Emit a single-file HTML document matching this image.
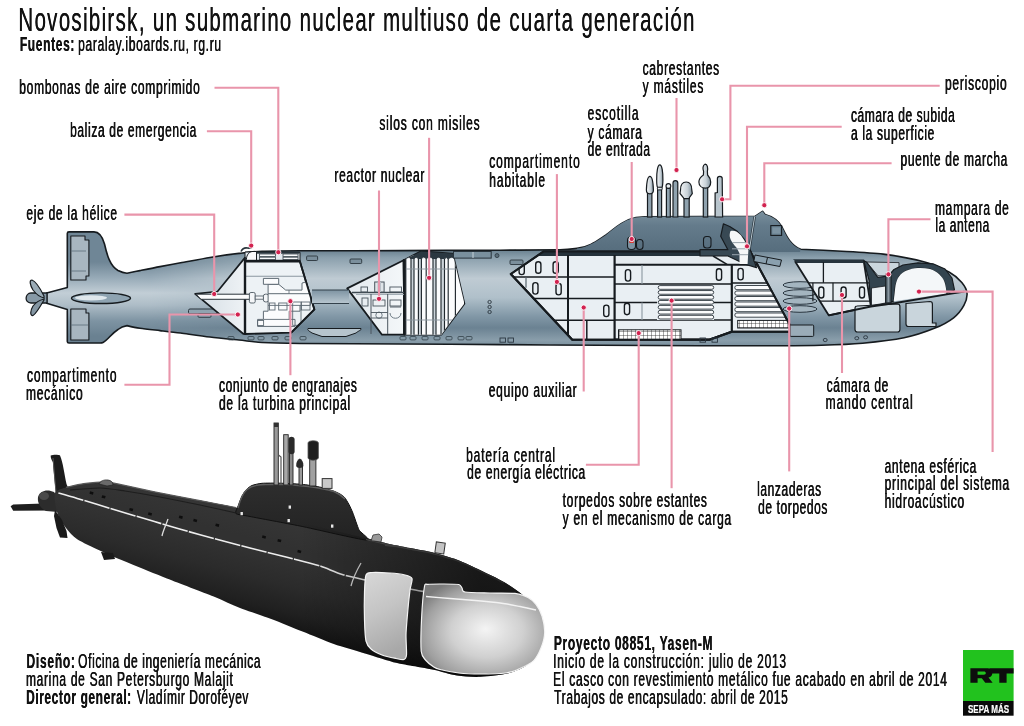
<!DOCTYPE html>
<html><head><meta charset="utf-8">
<style>
html,body{margin:0;padding:0;background:#fff;width:1024px;height:726px;overflow:hidden}
svg{display:block}
text{font-family:"Liberation Sans",sans-serif;fill:#111;stroke:#111;stroke-width:0.1px;text-shadow:0.45px 0 0 #111}
.pl{fill:none;stroke:#e995ab;stroke-width:2.1}
.dot{fill:#d2224f;stroke:#fff;stroke-width:0.9}
</style></head>
<body>
<svg width="1024" height="726" viewBox="0 0 1024 726">
<defs>
<linearGradient id="hull" gradientUnits="userSpaceOnUse" x1="0" y1="250" x2="0" y2="345">
<stop offset="0" stop-color="#6a8190"/>
<stop offset="0.08" stop-color="#8a9fac"/>
<stop offset="0.3" stop-color="#bfcbd3"/>
<stop offset="0.5" stop-color="#b0c0ca"/>
<stop offset="0.7" stop-color="#8197a6"/>
<stop offset="0.82" stop-color="#6b8292"/>
<stop offset="0.95" stop-color="#8a9eab"/>
<stop offset="1" stop-color="#7d92a0"/>
</linearGradient>
<linearGradient id="sailg" x1="0" y1="0" x2="0" y2="1">
<stop offset="0" stop-color="#7a909e"/><stop offset="0.35" stop-color="#647b8b"/><stop offset="1" stop-color="#566d7d"/>
</linearGradient>
<linearGradient id="mastg" x1="0" y1="0" x2="1" y2="0">
<stop offset="0" stop-color="#f5f7f8"/><stop offset="0.6" stop-color="#c9d2d8"/><stop offset="1" stop-color="#7d8f9b"/>
</linearGradient>
<pattern id="grid" width="4" height="4" patternUnits="userSpaceOnUse">
<rect width="4" height="4" fill="#fff"/><path d="M4,0 L4,4 M0,4 L4,4" stroke="#222" stroke-width="0.8"/>
</pattern>
<linearGradient id="bhull" gradientUnits="userSpaceOnUse" x1="316" y1="512" x2="284" y2="638">
<stop offset="0" stop-color="#363636"/><stop offset="0.4" stop-color="#323232"/><stop offset="0.6" stop-color="#2b2b2b"/><stop offset="0.8" stop-color="#202020"/><stop offset="0.93" stop-color="#151515"/><stop offset="1" stop-color="#0e0e0e"/>
</linearGradient>
<linearGradient id="bdeck" gradientUnits="userSpaceOnUse" x1="316" y1="512" x2="306" y2="552">
<stop offset="0" stop-color="#3e3e3e"/><stop offset="0.3" stop-color="#363636"/><stop offset="1" stop-color="#313131"/>
</linearGradient>
<linearGradient id="bsail" x1="0" y1="0" x2="0" y2="1">
<stop offset="0" stop-color="#2e2e2e"/><stop offset="1" stop-color="#222"/>
</linearGradient>
<linearGradient id="panel1" x1="0" y1="0" x2="0.3" y2="1">
<stop offset="0" stop-color="#d8d8d8"/><stop offset="0.5" stop-color="#c4c4c4"/><stop offset="1" stop-color="#a8a8a8"/>
</linearGradient>
<radialGradient id="panel2" cx="0.55" cy="0.55" r="0.65" fx="0.52" fy="0.5">
<stop offset="0" stop-color="#f4f4f4"/><stop offset="0.45" stop-color="#d0d0d0"/><stop offset="0.8" stop-color="#a0a0a0"/><stop offset="1" stop-color="#7a7a7a"/>
</radialGradient>
<linearGradient id="wedgeg" x1="0" y1="0" x2="1" y2="0">
<stop offset="0" stop-color="#d4dde4"/><stop offset="1" stop-color="#eef2f5"/>
</linearGradient>
<linearGradient id="wedgeg2" x1="0" y1="0" x2="1" y2="0">
<stop offset="0" stop-color="#e3e9ee"/><stop offset="1" stop-color="#f4f7f9"/>
</linearGradient>
<linearGradient id="tunnelg" x1="0" y1="0" x2="0" y2="1">
<stop offset="0" stop-color="#7d93a2"/><stop offset="1" stop-color="#b9c7d0"/>
</linearGradient>
<linearGradient id="bnose" gradientUnits="userSpaceOnUse" x1="300" y1="0" x2="480" y2="0">
<stop offset="0" stop-color="#000" stop-opacity="0"/><stop offset="1" stop-color="#000" stop-opacity="0.55"/>
</linearGradient>
<linearGradient id="tailg" gradientUnits="userSpaceOnUse" x1="0" y1="262" x2="0" y2="336">
<stop offset="0" stop-color="#6f8696"/><stop offset="0.22" stop-color="#98abb8"/><stop offset="0.42" stop-color="#c2ced6"/><stop offset="0.58" stop-color="#aebdc7"/><stop offset="0.8" stop-color="#7d93a2"/><stop offset="1" stop-color="#6a8191"/>
</linearGradient>
<linearGradient id="tailfade" gradientUnits="userSpaceOnUse" x1="150" y1="0" x2="250" y2="0">
<stop offset="0" stop-color="#fff"/><stop offset="1" stop-color="#000"/>
</linearGradient>
<mask id="tailmask" maskUnits="userSpaceOnUse" x="0" y="200" width="300" height="160"><rect x="0" y="200" width="300" height="160" fill="url(#tailfade)"/></mask>
</defs>
<g id="topsub">
<path d="M46.7,293 L67.3,287.6 L67.3,233.5 Q67.3,231.9 69,231.9 L94,231.9 C100,232 102.5,237 104.5,244 C107,255 110,266 118,270.5 C121,272 124,273 127,273.2 C128.7,272.9 135.6,271.5 140.0,270.6 C144.4,269.7 154.6,267.6 160.0,266.6 C165.4,265.6 173.9,264.0 180.6,262.8 C187.3,261.6 202.2,258.8 210.0,257.5 C217.8,256.2 232.1,254.2 239.0,253.4 C245.9,252.6 253.9,251.6 262.0,251.3 C270.1,251.0 281.6,250.9 300.0,250.8 C318.4,250.7 373.3,250.7 400.0,250.6 C426.7,250.5 478.7,250.3 500.0,250.2 C521.3,250.1 549.7,250.0 560.0,249.8 C570.3,249.6 574.7,248.6 577.0,248.4 C590,247 598,240 606,235 C614,229 622,220.5 636,217.6 L645,216.7 L755,216.3 L762.5,211.3 L765,214.6 C772,216.5 778,220 782,227 C786,235 790,245 800.7,249.3 C806.2,249.6 831.0,250.6 842.0,251.2 C853.0,251.8 872.3,252.7 883.3,254.1 C894.3,255.5 915.8,259.6 924.6,262.0 C933.4,264.4 944.4,269.6 949.4,272.3 C954.4,275.0 959.5,279.8 961.8,282.6 C964.1,285.4 966.7,290.0 967.0,293.0 C967.3,296.0 965.7,302.1 963.9,305.4 C962.1,308.7 957.5,314.8 953.6,317.8 C949.7,320.8 941.6,325.4 935.0,328.1 C928.4,330.8 913.7,335.8 904.0,337.8 C894.3,339.8 873.6,342.2 862.6,343.2 C851.6,344.2 832.3,344.9 821.3,345.2 C810.3,345.5 796.2,345.6 780.0,345.7 C763.8,345.8 724.0,345.8 700.0,345.7 C676.0,345.6 626.7,345.4 600.0,345.3 C573.3,345.2 526.7,344.8 500.0,344.6 C473.3,344.4 426.7,344.1 400.0,344.0 C373.3,343.9 318.4,343.7 300.0,343.5 C281.6,343.3 270.1,343.0 262.0,342.5 C253.9,342.0 245.9,340.7 239.0,340.0 C232.1,339.3 217.8,337.9 210.0,337.0 C202.2,336.1 187.3,333.9 180.6,333.0 C173.9,332.1 165.4,331.2 160.0,330.6 C154.6,330.0 144.4,329.0 140.0,328.3 C135.6,327.6 128.7,326.0 127.0,325.6 C124,326 121,327 118,329.5 C111,334 108,340 103,342.5 C102,343 101,343 100,343 L69,343 Q67.3,343 67.3,341.4 L67.3,309.4 L46.7,303.3 Z" fill="url(#hull)"/>
<path d="M46.7,293 L67.3,287.6 L67.3,233.5 Q67.3,231.9 69,231.9 L94,231.9 C100,232 102.5,237 104.5,244 C107,255 110,266 118,270.5 C121,272 124,273 127,273.2 C128.7,272.9 135.6,271.5 140.0,270.6 C144.4,269.7 154.6,267.6 160.0,266.6 C165.4,265.6 173.9,264.0 180.6,262.8 C187.3,261.6 202.2,258.8 210.0,257.5 C217.8,256.2 232.1,254.2 239.0,253.4 C245.9,252.6 253.9,251.6 262.0,251.3 C270.1,251.0 281.6,250.9 300.0,250.8 C318.4,250.7 373.3,250.7 400.0,250.6 C426.7,250.5 478.7,250.3 500.0,250.2 C521.3,250.1 549.7,250.0 560.0,249.8 C570.3,249.6 574.7,248.6 577.0,248.4 C590,247 598,240 606,235 C614,229 622,220.5 636,217.6 L645,216.7 L755,216.3 L762.5,211.3 L765,214.6 C772,216.5 778,220 782,227 C786,235 790,245 800.7,249.3 C806.2,249.6 831.0,250.6 842.0,251.2 C853.0,251.8 872.3,252.7 883.3,254.1 C894.3,255.5 915.8,259.6 924.6,262.0 C933.4,264.4 944.4,269.6 949.4,272.3 C954.4,275.0 959.5,279.8 961.8,282.6 C964.1,285.4 966.7,290.0 967.0,293.0 C967.3,296.0 965.7,302.1 963.9,305.4 C962.1,308.7 957.5,314.8 953.6,317.8 C949.7,320.8 941.6,325.4 935.0,328.1 C928.4,330.8 913.7,335.8 904.0,337.8 C894.3,339.8 873.6,342.2 862.6,343.2 C851.6,344.2 832.3,344.9 821.3,345.2 C810.3,345.5 796.2,345.6 780.0,345.7 C763.8,345.8 724.0,345.8 700.0,345.7 C676.0,345.6 626.7,345.4 600.0,345.3 C573.3,345.2 526.7,344.8 500.0,344.6 C473.3,344.4 426.7,344.1 400.0,344.0 C373.3,343.9 318.4,343.7 300.0,343.5 C281.6,343.3 270.1,343.0 262.0,342.5 C253.9,342.0 245.9,340.7 239.0,340.0 C232.1,339.3 217.8,337.9 210.0,337.0 C202.2,336.1 187.3,333.9 180.6,333.0 C173.9,332.1 165.4,331.2 160.0,330.6 C154.6,330.0 144.4,329.0 140.0,328.3 C135.6,327.6 128.7,326.0 127.0,325.6 C124,326 121,327 118,329.5 C111,334 108,340 103,342.5 C102,343 101,343 100,343 L69,343 Q67.3,343 67.3,341.4 L67.3,309.4 L46.7,303.3 Z" fill="url(#tailg)" mask="url(#tailmask)"/>
<path d="M46.7,293 L67.3,287.6 L67.3,233.5 Q67.3,231.9 69,231.9 L94,231.9 C100,232 102.5,237 104.5,244 C107,255 110,266 118,270.5 C121,272 124,273 127,273.2 C128.7,272.9 135.6,271.5 140.0,270.6 C144.4,269.7 154.6,267.6 160.0,266.6 C165.4,265.6 173.9,264.0 180.6,262.8 C187.3,261.6 202.2,258.8 210.0,257.5 C217.8,256.2 232.1,254.2 239.0,253.4 C245.9,252.6 253.9,251.6 262.0,251.3 C270.1,251.0 281.6,250.9 300.0,250.8 C318.4,250.7 373.3,250.7 400.0,250.6 C426.7,250.5 478.7,250.3 500.0,250.2 C521.3,250.1 549.7,250.0 560.0,249.8 C570.3,249.6 574.7,248.6 577.0,248.4 C590,247 598,240 606,235 C614,229 622,220.5 636,217.6 L645,216.7 L755,216.3 L762.5,211.3 L765,214.6 C772,216.5 778,220 782,227 C786,235 790,245 800.7,249.3 C806.2,249.6 831.0,250.6 842.0,251.2 C853.0,251.8 872.3,252.7 883.3,254.1 C894.3,255.5 915.8,259.6 924.6,262.0 C933.4,264.4 944.4,269.6 949.4,272.3 C954.4,275.0 959.5,279.8 961.8,282.6 C964.1,285.4 966.7,290.0 967.0,293.0 C967.3,296.0 965.7,302.1 963.9,305.4 C962.1,308.7 957.5,314.8 953.6,317.8 C949.7,320.8 941.6,325.4 935.0,328.1 C928.4,330.8 913.7,335.8 904.0,337.8 C894.3,339.8 873.6,342.2 862.6,343.2 C851.6,344.2 832.3,344.9 821.3,345.2 C810.3,345.5 796.2,345.6 780.0,345.7 C763.8,345.8 724.0,345.8 700.0,345.7 C676.0,345.6 626.7,345.4 600.0,345.3 C573.3,345.2 526.7,344.8 500.0,344.6 C473.3,344.4 426.7,344.1 400.0,344.0 C373.3,343.9 318.4,343.7 300.0,343.5 C281.6,343.3 270.1,343.0 262.0,342.5 C253.9,342.0 245.9,340.7 239.0,340.0 C232.1,339.3 217.8,337.9 210.0,337.0 C202.2,336.1 187.3,333.9 180.6,333.0 C173.9,332.1 165.4,331.2 160.0,330.6 C154.6,330.0 144.4,329.0 140.0,328.3 C135.6,327.6 128.7,326.0 127.0,325.6 C124,326 121,327 118,329.5 C111,334 108,340 103,342.5 C102,343 101,343 100,343 L69,343 Q67.3,343 67.3,341.4 L67.3,309.4 L46.7,303.3 Z" fill="none" stroke="#161b1f" stroke-width="1.6" stroke-linejoin="round"/>
<path d="M577,248.4 C590,247 598,240 606,235 C614,229 622,220.5 636,217.6 L645,216.7 L755,216.3 L762.5,211.3 L765,214.6 C772,216.5 778,220 782,227 C786,235 790,245 800.7,249.3 L800,252 L577,252Z" fill="url(#sailg)" stroke="none"/>
<path d="M70.8,236.0 L85.0,236.0 L85.0,240.0 L88.9,240.0 L88.9,276.0 L86.0,276.0 L86.0,280.0 L70.8,280.0Z" fill="#a8b6c0" stroke="#161b1f" stroke-width="1.1" stroke-linejoin="round" />
<line x1="70.8" y1="251" x2="86" y2="251" stroke="#5c6c78" stroke-width="0.8"/>
<line x1="70.8" y1="271" x2="86" y2="271" stroke="#5c6c78" stroke-width="0.8"/>
<path d="M70.8,309.0 L86.0,309.0 L86.0,313.0 L88.9,313.0 L88.9,340.0 L70.8,340.0Z" fill="#a8b6c0" stroke="#161b1f" stroke-width="1.1" stroke-linejoin="round" />
<line x1="70.8" y1="325" x2="88" y2="325" stroke="#5c6c78" stroke-width="0.8"/>
<path d="M47,293 L31,293 C25,293 24,303 31,303 L47,303Z" fill="#8799a6" stroke="#161b1f" stroke-width="1.3"/>
<path d="M44,296 C40,288 35,281 32,280 C29,280 30,285 33,290 C36,294 40,297 44,298Z" fill="#9aabb6" stroke="#161b1f" stroke-width="1.2"/>
<path d="M44,300 C40,307 36,314 33,315.5 C30,316 30,311 33,306 C36,302 40,300 44,299Z" fill="#8496a3" stroke="#161b1f" stroke-width="1.2"/>
<ellipse cx="101" cy="298.2" rx="29.5" ry="5.3" fill="#8ea3b1" stroke="#161b1f" stroke-width="1.4"/>
<ellipse cx="91" cy="297.8" rx="16" ry="2.6" fill="#dfe7ec"/>
<path d="M245.0,252.0 L300.0,252.3 L300.0,261.5 L245.0,261.5Z" fill="#e3e9ee" stroke="#161b1f" stroke-width="1.0" stroke-linejoin="round" />
<path d="M246.5,261.5 C246,256 248,252.5 252,251.5 L256.5,251.5 L256.5,261.5Z" fill="#fafbfc" stroke="#161b1f" stroke-width="1"/>
<rect x="259.5" y="254" width="16" height="2.4" rx="0" fill="#f7f9fa" stroke="#39444c" stroke-width="0.8"/>
<rect x="283" y="254" width="15" height="2.4" rx="0" fill="#f7f9fa" stroke="#39444c" stroke-width="0.8"/>
<rect x="259.5" y="257.2" width="16" height="2.4" rx="0" fill="#f7f9fa" stroke="#39444c" stroke-width="0.8"/>
<rect x="283" y="257.2" width="15" height="2.4" rx="0" fill="#f7f9fa" stroke="#39444c" stroke-width="0.8"/>
<rect x="256.5" y="251.7" width="43" height="2" rx="0" fill="#2a353d" stroke="none" stroke-width="0"/>
<rect x="245" y="259.8" width="55.5" height="2.2" fill="#161b1f"/>
<path d="M241,251.5 C242.5,248.5 245,247.5 247.5,248 C249.5,248.5 251,247.8 252.5,247" fill="none" stroke="#2a353d" stroke-width="1.6"/>
<rect x="188.5" y="309" width="29" height="4.8" rx="1.5" fill="#8fa3b0" stroke="#2a353d" stroke-width="1"/>
<rect x="198" y="313.5" width="13" height="3.8" rx="1" fill="#8fa3b0" stroke="#2a353d" stroke-width="0.9"/>
<path d="M195.1,293.8 L217.5,291.5 L245,257.6 L245,334 L243.5,334Z" fill="url(#wedgeg)" stroke="#161b1f" stroke-width="1.7" stroke-linejoin="round"/>
<path d="M245,261.7 L300,261.7 L314.4,309.4 L291.2,332.6 L245,334Z" fill="#edf2f5" stroke="#161b1f" stroke-width="1.8" stroke-linejoin="round"/>
<line x1="245" y1="276.2" x2="304.2" y2="276.2" stroke="#8a969f" stroke-width="1.1"/>
<line x1="245" y1="260" x2="245" y2="334.5" stroke="#161b1f" stroke-width="2.4"/>
<path d="M196,294.2 L250,294.2 L250,299.3 L201,299.3Z" fill="#fbfcfd" stroke="#2b343b" stroke-width="1"/>
<rect x="249.4" y="292.5" width="5.8" height="10.5" rx="1.5" fill="#f4f6f8" stroke="#4b5760" stroke-width="0.9"/>
<rect x="255.2" y="296" width="8.2" height="3.2" rx="0" fill="#f4f6f8" stroke="#4b5760" stroke-width="0.8"/>
<rect x="263.4" y="294.2" width="5.3" height="7.7" rx="2" fill="#f4f6f8" stroke="#4b5760" stroke-width="0.9"/>
<clipPath id="cA"><path d="M245,261.7 L300,261.7 L314.4,309.4 L291.2,332.6 L245,334Z"/></clipPath><g clip-path="url(#cA)">
<path d="M268.1,284.3 L278.7,284.3 L285.7,290.1 L302.0,290.1 L302.0,283.1 L305.6,282.0 L309.0,285.0 L311.0,293.7 L310.3,305.4 L300.0,305.4 L300.0,311.2 L289.2,311.2 L289.2,319.4 L295.0,319.4 L295.0,326.4 L257.6,326.4 L257.6,319.4 L263.4,319.4 L263.4,311.2 L268.1,311.2Z" fill="#fbfcfd" stroke="#5e6a73" stroke-width="1.0" stroke-linejoin="round"/>
<path d="M263.4,278.4 L278.7,278.4 L278.7,284.3 L263.4,284.3Z" fill="#fbfcfd" stroke="#5e6a73" stroke-width="1.0" stroke-linejoin="round"/>
<line x1="268.1" y1="293.7" x2="310.3" y2="293.7" stroke="#5e6a73" stroke-width="1"/>
<line x1="268.1" y1="305.4" x2="300" y2="305.4" stroke="#5e6a73" stroke-width="0.9"/>
<rect x="269.5" y="303" width="5.5" height="7" rx="0" fill="none" stroke="#5e6a73" stroke-width="0.9"/>
<rect x="278.7" y="303" width="8.300000000000011" height="7" rx="0" fill="none" stroke="#5e6a73" stroke-width="0.9"/>
<rect x="292.7" y="302" width="8.300000000000011" height="23.30000000000001" rx="0" fill="none" stroke="#5e6a73" stroke-width="0.9"/>
<rect x="301.5" y="302" width="8.5" height="8" rx="0" fill="none" stroke="#5e6a73" stroke-width="0.9"/>
<rect x="257.6" y="320.5" width="6" height="5" rx="0" fill="none" stroke="#5e6a73" stroke-width="0.9"/>
<line x1="263.4" y1="319.4" x2="289.2" y2="319.4" stroke="#5e6a73" stroke-width="0.9"/>
<line x1="289" y1="290.1" x2="289" y2="293.7" stroke="#5e6a73" stroke-width="0.8"/>
</g>
<path d="M300,261.7 L314.4,309.4 L291.2,332.6" fill="none" stroke="#161b1f" stroke-width="1.8" stroke-linejoin="round"/>
<path d="M347.2,288.4 L403.6,260.2 L404.4,334.7 L382,334.7Z" fill="url(#wedgeg2)" stroke="#161b1f" stroke-width="1.8" stroke-linejoin="round"/>
<path d="M403.6,260.2 L421,251.4 L452.8,253.6 L464.4,303.6 L441.2,334.7 L404.4,334.7Z" fill="#f8fafb" stroke="#161b1f" stroke-width="1.8" stroke-linejoin="round"/>
<clipPath id="cB"><path d="M403.6,260.2 L421,251.4 L452.8,253.6 L464.4,303.6 L441.2,334.7 L404.4,334.7Z"/></clipPath>
<g clip-path="url(#cB)">
<rect x="404" y="255" width="60" height="80" fill="#fbfcfd"/>
<rect x="411" y="259" width="3.0" height="76" fill="#ccd4da"/>
<rect x="418.4" y="259" width="3.0" height="76" fill="#ccd4da"/>
<rect x="433" y="259" width="3.0" height="76" fill="#ccd4da"/>
<rect x="441" y="259" width="3.5" height="76" fill="#ccd4da"/>
<line x1="405.8" y1="259" x2="405.8" y2="335" stroke="#1f272d" stroke-width="1.15"/>
<line x1="411" y1="259" x2="411" y2="335" stroke="#1f272d" stroke-width="1.15"/>
<line x1="414" y1="259" x2="414" y2="335" stroke="#1f272d" stroke-width="1.15"/>
<line x1="418.4" y1="259" x2="418.4" y2="335" stroke="#1f272d" stroke-width="1.15"/>
<line x1="421.4" y1="259" x2="421.4" y2="335" stroke="#1f272d" stroke-width="1.15"/>
<line x1="426.2" y1="259" x2="426.2" y2="335" stroke="#1f272d" stroke-width="1.15"/>
<line x1="433" y1="259" x2="433" y2="335" stroke="#1f272d" stroke-width="1.15"/>
<line x1="436" y1="259" x2="436" y2="335" stroke="#1f272d" stroke-width="1.15"/>
<line x1="441" y1="259" x2="441" y2="335" stroke="#1f272d" stroke-width="1.15"/>
<line x1="444.5" y1="259" x2="444.5" y2="335" stroke="#1f272d" stroke-width="1.15"/>
<line x1="448.2" y1="259" x2="448.2" y2="335" stroke="#1f272d" stroke-width="1.15"/>
<line x1="455.4" y1="259" x2="455.4" y2="335" stroke="#1f272d" stroke-width="1.15"/>
<line x1="404" y1="269" x2="458" y2="269" stroke="#8a969f" stroke-width="0.9"/>
<line x1="404" y1="320" x2="458" y2="320" stroke="#8a969f" stroke-width="0.9"/>
<path d="M402,251 L455,251 L455,259 L402,259Z" fill="#2b3841"/>
<path d="M405.8,259 Q408.4,255.5 411,259 M414,259 Q416.2,255.5 418.4,259 M421.4,259 Q423.8,255 426.2,259 M426.2,259 Q429.6,255 433,259 M436,259 Q438.5,255.5 441,259 M444.5,259 Q446.3,256 448.2,259 M448.2,259 Q451.8,255.5 455.4,259" fill="#e9eef1" stroke="#1f272d" stroke-width="0.8"/>
</g>
<line x1="404.4" y1="259" x2="404.4" y2="335" stroke="#161b1f" stroke-width="2.6"/>
<line x1="352" y1="292.5" x2="404" y2="292.5" stroke="#3d4850" stroke-width="1.6"/>
<line x1="356" y1="294.5" x2="404" y2="294.5" stroke="#9aa6ae" stroke-width="0.9"/>
<rect x="374.7" y="282" width="9.4" height="10" rx="0" fill="#dfe5e9" stroke="#4a555e" stroke-width="1"/>
<rect x="377.5" y="282" width="3.5" height="10" rx="0" fill="#b9c3ca" stroke="none" stroke-width="0"/>
<rect x="361" y="287" width="6.5" height="5" rx="0" fill="none" stroke="#4a555e" stroke-width="0.9"/>
<rect x="389.9" y="287" width="11.6" height="5" rx="0" fill="none" stroke="#4a555e" stroke-width="0.9"/>
<line x1="371" y1="294" x2="371" y2="334" stroke="#4a555e" stroke-width="1"/>
<line x1="387.7" y1="294" x2="387.7" y2="334" stroke="#4a555e" stroke-width="1"/>
<rect x="362" y="298" width="6" height="8" rx="0" fill="none" stroke="#4a555e" stroke-width="0.9"/>
<rect x="373" y="300" width="12" height="6" rx="0" fill="none" stroke="#4a555e" stroke-width="0.9"/>
<circle cx="379" cy="315.2" r="3.2" fill="none" stroke="#6f7c86" stroke-width="1"/>
<line x1="371" y1="312.5" x2="387.7" y2="312.5" stroke="#4a555e" stroke-width="0.9"/>
<line x1="371" y1="318" x2="387.7" y2="318" stroke="#4a555e" stroke-width="0.9"/>
<rect x="390" y="300" width="11" height="6" rx="0" fill="none" stroke="#4a555e" stroke-width="0.9"/>
<path d="M390,313 C390,320 401,320 401,313" fill="none" stroke="#6f7c86" stroke-width="1"/>
<line x1="390" y1="307" x2="401" y2="307" stroke="#4a555e" stroke-width="0.9"/>
<rect x="350" y="259" width="11.7" height="4.5" rx="1" fill="#7b8f9c" stroke="#2a353d" stroke-width="0.9"/>
<rect x="306.6" y="256" width="11" height="4.5" rx="1" fill="#7b8f9c" stroke="#2a353d" stroke-width="0.9"/>
<rect x="510" y="260" width="13" height="4.5" rx="1" fill="#7b8f9c" stroke="#2a353d" stroke-width="0.9"/>
<rect x="453.5" y="251.5" width="37.7" height="6.6" rx="0" fill="#7a909e" stroke="#2a353d" stroke-width="1"/>
<line x1="473" y1="252" x2="473" y2="258" stroke="#c5d1d8" stroke-width="1"/>
<circle cx="497" cy="255.6" r="2" fill="#5b6e7a" stroke="#2a353d" stroke-width="0.8"/>
<ellipse cx="489.6" cy="302" rx="1.7" ry="1.6" fill="none" stroke="#2a353d" stroke-width="0.9"/>
<ellipse cx="489.6" cy="307" rx="1.7" ry="1.6" fill="none" stroke="#2a353d" stroke-width="0.9"/>
<ellipse cx="489.6" cy="312" rx="1.7" ry="1.6" fill="none" stroke="#2a353d" stroke-width="0.9"/>
<path d="M312,290 L349,290 L349,303.5 L312,303.5Z" fill="url(#tunnelg)"/>
<line x1="312" y1="290" x2="349" y2="290" stroke="#33414b" stroke-width="1"/>
<line x1="312" y1="303.5" x2="349" y2="303.5" stroke="#33414b" stroke-width="1"/>
<path d="M308,328.5 L361,328.5 C362,330 358,331 356,333 L346,336.5 L322,336.5 L312,333 C309,331 307,330 308,328.5Z" fill="#b6c4cd" stroke="#161b1f" stroke-width="1"/>
<rect x="228" y="336.5" width="6" height="3.4" rx="1" fill="none" stroke="#34414a" stroke-width="0.8"/>
<rect x="248" y="336.5" width="6" height="3.4" rx="1" fill="none" stroke="#34414a" stroke-width="0.8"/>
<rect x="258" y="336.5" width="6" height="3.4" rx="1" fill="none" stroke="#34414a" stroke-width="0.8"/>
<rect x="272" y="336.5" width="6" height="3.4" rx="1" fill="none" stroke="#34414a" stroke-width="0.8"/>
<rect x="285" y="336.5" width="6" height="3.4" rx="1" fill="none" stroke="#34414a" stroke-width="0.8"/>
<rect x="300" y="336.5" width="6" height="3.4" rx="1" fill="none" stroke="#34414a" stroke-width="0.8"/>
<rect x="400" y="336.5" width="6" height="3.4" rx="1" fill="none" stroke="#34414a" stroke-width="0.8"/>
<rect x="410" y="336.5" width="6" height="3.4" rx="1" fill="none" stroke="#34414a" stroke-width="0.8"/>
<rect x="422" y="336.5" width="6" height="3.4" rx="1" fill="none" stroke="#34414a" stroke-width="0.8"/>
<rect x="434" y="336.5" width="6" height="3.4" rx="1" fill="none" stroke="#34414a" stroke-width="0.8"/>
<rect x="446" y="336.5" width="6" height="3.4" rx="1" fill="none" stroke="#34414a" stroke-width="0.8"/>
<rect x="458" y="336.5" width="6" height="3.4" rx="1" fill="none" stroke="#34414a" stroke-width="0.8"/>
<rect x="466" y="336.5" width="6" height="3.4" rx="1" fill="none" stroke="#34414a" stroke-width="0.8"/>
<ellipse cx="800" cy="285" rx="17" ry="3.3" fill="#a4b5c0" stroke="#2a3640" stroke-width="1"/>
<ellipse cx="800" cy="293" rx="17" ry="3.3" fill="#a4b5c0" stroke="#2a3640" stroke-width="1"/>
<ellipse cx="800" cy="301" rx="17" ry="3.3" fill="#a4b5c0" stroke="#2a3640" stroke-width="1"/>
<ellipse cx="800" cy="309" rx="17" ry="3.3" fill="#a4b5c0" stroke="#2a3640" stroke-width="1"/>
<clipPath id="cC"><path d="M510.8,274.0 L543.4,251.6 L750.4,251.6 L793.4,331.8 L731.8,331.8 L709.4,339.8 L572.3,339.8Z"/></clipPath>
<path d="M510.8,274.0 L543.4,251.6 L750.4,251.6 L793.4,331.8 L731.8,331.8 L709.4,339.8 L572.3,339.8Z" fill="#e9eff3" stroke="#161b1f" stroke-width="2" stroke-linejoin="round" />
<g clip-path="url(#cC)">
<rect x="500" y="249" width="300" height="7" fill="#24313a"/>
<path d="M615.6,256 L713,256 L727,264.4 L615.6,264.4Z" fill="#e4eaee"/>
<line x1="500" y1="276.9" x2="615" y2="276.9" stroke="#161b1f" stroke-width="1.5"/>
<line x1="500" y1="298.6" x2="615" y2="298.6" stroke="#161b1f" stroke-width="1.5"/>
<line x1="500" y1="320.3" x2="615" y2="320.3" stroke="#161b1f" stroke-width="1.5"/>
<line x1="526" y1="276.9" x2="526" y2="287.7" stroke="#55626b" stroke-width="1.2"/>
<line x1="586.8" y1="320.3" x2="586.8" y2="340" stroke="#161b1f" stroke-width="1.5"/>
<line x1="614.6" y1="255" x2="614.6" y2="340" stroke="#161b1f" stroke-width="2.2"/>
<line x1="568" y1="255" x2="568" y2="340" stroke="#161b1f" stroke-width="2.0"/>
<line x1="731.8" y1="264.4" x2="731.8" y2="332" stroke="#161b1f" stroke-width="2.2"/>
<line x1="614.6" y1="264.8" x2="760" y2="264.8" stroke="#161b1f" stroke-width="2"/>
<line x1="713" y1="256" x2="727" y2="264.4" stroke="#161b1f" stroke-width="1.5"/>
<line x1="614.6" y1="284" x2="731.8" y2="284" stroke="#161b1f" stroke-width="1.5"/>
<line x1="614.6" y1="302.5" x2="731.8" y2="302.5" stroke="#161b1f" stroke-width="1.5"/>
<line x1="614.6" y1="320" x2="731.8" y2="320" stroke="#161b1f" stroke-width="1.5"/>
<line x1="731.8" y1="283" x2="790" y2="283" stroke="#161b1f" stroke-width="1.5"/>
<line x1="642" y1="265" x2="642" y2="284" stroke="#8a969f" stroke-width="1.1"/>
<line x1="642" y1="302.5" x2="642" y2="320" stroke="#8a969f" stroke-width="1.1"/>
<path d="M614.6,339.6 L709.4,339.6 L731.8,331.8" fill="none" stroke="#161b1f" stroke-width="2"/>
<rect x="657" y="285" width="57" height="35" fill="#e9eff3"/>
<rect x="658.2" y="285.60" width="55.5" height="3.7" rx="1.85" fill="#fbfcfd" stroke="#2b343b" stroke-width="0.9"/>
<rect x="658.2" y="290.55" width="55.5" height="3.7" rx="1.85" fill="#fbfcfd" stroke="#2b343b" stroke-width="0.9"/>
<rect x="658.2" y="295.50" width="55.5" height="3.7" rx="1.85" fill="#fbfcfd" stroke="#2b343b" stroke-width="0.9"/>
<rect x="658.2" y="300.45" width="55.5" height="3.7" rx="1.85" fill="#fbfcfd" stroke="#2b343b" stroke-width="0.9"/>
<rect x="658.2" y="305.40" width="55.5" height="3.7" rx="1.85" fill="#fbfcfd" stroke="#2b343b" stroke-width="0.9"/>
<rect x="658.2" y="310.35" width="55.5" height="3.7" rx="1.85" fill="#fbfcfd" stroke="#2b343b" stroke-width="0.9"/>
<rect x="658.2" y="315.30" width="55.5" height="3.7" rx="1.85" fill="#fbfcfd" stroke="#2b343b" stroke-width="0.9"/>
<rect x="734.8" y="285.5" width="60" height="4.2" rx="2.1" fill="#fbfcfd" stroke="#2b343b" stroke-width="0.9"/>
<rect x="734.8" y="291.0" width="60" height="4.2" rx="2.1" fill="#fbfcfd" stroke="#2b343b" stroke-width="0.9"/>
<rect x="734.8" y="296.5" width="60" height="4.2" rx="2.1" fill="#fbfcfd" stroke="#2b343b" stroke-width="0.9"/>
<rect x="734.8" y="302.0" width="60" height="4.2" rx="2.1" fill="#fbfcfd" stroke="#2b343b" stroke-width="0.9"/>
<rect x="734.8" y="307.5" width="60" height="4.2" rx="2.1" fill="#fbfcfd" stroke="#2b343b" stroke-width="0.9"/>
<rect x="734.8" y="313.0" width="60" height="4.2" rx="2.1" fill="#fbfcfd" stroke="#2b343b" stroke-width="0.9"/>
<rect x="618.5" y="329.8" width="62.5" height="9.6" fill="url(#grid)" stroke="#161b1f" stroke-width="1"/>
<rect x="737.7" y="320.4" width="52" height="7.6" fill="url(#grid)" stroke="#161b1f" stroke-width="1"/>
<rect x="519.1" y="263.1" width="5.2" height="11.5" rx="2.6" fill="none" stroke="#161b1f" stroke-width="1.4"/>
<rect x="535.7" y="261.8" width="5.2" height="11.5" rx="2.6" fill="none" stroke="#161b1f" stroke-width="1.4"/>
<rect x="553.1" y="261.8" width="5.2" height="11.5" rx="2.6" fill="none" stroke="#161b1f" stroke-width="1.4"/>
<rect x="532.8" y="282.6" width="5.2" height="11.5" rx="2.6" fill="none" stroke="#161b1f" stroke-width="1.4"/>
<rect x="556.0" y="283.4" width="5.2" height="11.5" rx="2.6" fill="none" stroke="#161b1f" stroke-width="1.4"/>
<rect x="603.7" y="305.1" width="5.2" height="11.5" rx="2.6" fill="none" stroke="#161b1f" stroke-width="1.4"/>
<rect x="625.4" y="269.6" width="5.2" height="11.5" rx="2.6" fill="none" stroke="#161b1f" stroke-width="1.4"/>
<rect x="624.4" y="303.2" width="5.2" height="11.5" rx="2.6" fill="none" stroke="#161b1f" stroke-width="1.4"/>
<rect x="716.4" y="268.8" width="5.2" height="11.5" rx="2.6" fill="none" stroke="#161b1f" stroke-width="1.4"/>
<rect x="738.0" y="268.4" width="5.2" height="11.5" rx="2.6" fill="none" stroke="#161b1f" stroke-width="1.4"/>
</g>
<path d="M510.8,274.0 L543.4,251.6 L750.4,251.6 L793.4,331.8 L731.8,331.8 L709.4,339.8 L572.3,339.8Z" fill="none" stroke="#161b1f" stroke-width="2" stroke-linejoin="round" />
<path d="M795.3,261.7 L863.8,261.7 L870.9,306.5 L828.7,315.3Z" fill="#e9eff3" stroke="#161b1f" stroke-width="1.8" stroke-linejoin="round" />
<path d="M793,259.3 L864,259.5 L866,263 L797,263Z" fill="#27343d"/>
<line x1="823.4" y1="262" x2="823.4" y2="282.8" stroke="#161b1f" stroke-width="1.3"/>
<line x1="809" y1="282.8" x2="869" y2="282.8" stroke="#161b1f" stroke-width="1.3"/>
<line x1="812.9" y1="282.8" x2="812.9" y2="301.2" stroke="#161b1f" stroke-width="1.2"/>
<line x1="833" y1="282.8" x2="833" y2="301.2" stroke="#161b1f" stroke-width="1.2"/>
<line x1="820" y1="301.2" x2="870" y2="301.2" stroke="#161b1f" stroke-width="1.2"/>
<rect x="818.8" y="287.0" width="5" height="11" rx="2.5" fill="none" stroke="#161b1f" stroke-width="1.4"/>
<rect x="841.1" y="287.0" width="5" height="11" rx="2.5" fill="none" stroke="#161b1f" stroke-width="1.4"/>
<rect x="859.5" y="287.0" width="5" height="11" rx="2.5" fill="none" stroke="#161b1f" stroke-width="1.4"/>
<path d="M723.4,223.8 L729.7,226.5 L736.8,231 L744,239 L748.5,247 L750.3,249.7 L756.5,267.6 L745.8,264.5 L727.9,256 L700,256 L700,249.5 L727.9,249.7 L720.7,236.3Z" fill="#384954" stroke="#161b1f" stroke-width="1.2" stroke-linejoin="round"/>
<path d="M730.6,231 C733,230.6 735,231 736.8,231.8 C739,233.5 741,235 742.2,237.2 C744,239.5 745,241.5 745.8,243.5 C747,245 748,246.5 748.5,248 L747.6,264 L739.5,264 L739.5,253.3 C738.5,251.5 737.5,249.5 736.8,248 C735,246 733.5,244.5 732.4,242.6 C731,240.5 730,238.5 729.7,236.3 C729.6,234 730,232 730.6,231Z" fill="#f6f8f9"/>
<line x1="732" y1="242.6" x2="748" y2="242.6" stroke="#9aa6ae" stroke-width="1"/>
<line x1="732" y1="248.8" x2="748" y2="248.8" stroke="#9aa6ae" stroke-width="1"/>
<line x1="732" y1="254.7" x2="748" y2="254.7" stroke="#9aa6ae" stroke-width="1"/>
<path d="M754.7,216.6 L749.4,249.7" fill="none" stroke="#2a353d" stroke-width="2.4"/>
<path d="M754.7,216.6 L749.4,249.7" fill="none" stroke="#b7c5ce" stroke-width="1"/>
<path d="M755,255 L781.5,260 L779.8,266.5 L753.8,261.5Z" fill="#8aa0ae" stroke="#161b1f" stroke-width="1"/>
<line x1="767.5" y1="257.5" x2="766" y2="264" stroke="#161b1f" stroke-width="1"/>
<rect x="770.8" y="225.6" width="10.8" height="9.8" rx="0" fill="#6a8292" stroke="#161b1f" stroke-width="1.1"/>
<rect x="772.5" y="227.5" width="7.5" height="6" rx="0" fill="#7c93a2" stroke="none" stroke-width="0"/>
<rect x="627.5" y="237" width="8" height="12.5" rx="3.5" fill="#7d93a2" stroke="#161b1f" stroke-width="1.1"/>
<rect x="629.3" y="238.2" width="4.5" height="4.8" fill="#d7372c"/>
<rect x="636.5" y="239.5" width="6.5" height="10" rx="3" fill="none" stroke="#161b1f" stroke-width="1.1"/>
<rect x="703.5" y="236.5" width="7.5" height="11.5" rx="3" fill="none" stroke="#161b1f" stroke-width="1.1"/>
<rect x="647.5" y="192" width="4.399999999999977" height="25" fill="#8fa2ae" stroke="#161b1f" stroke-width="1.2"/>
<path d="M649.9,176.3 C652,176.3 653.2,183 653.4,190 C653.4,192.5 652.5,193.8 649.9,193.8 C647.3,193.8 646.4,192.5 646.4,190 C646.6,183 647.8,176.3 649.9,176.3Z" fill="url(#mastg)" stroke="#161b1f" stroke-width="1.2"/>
<rect x="657.6" y="189" width="4.0" height="28" fill="#8fa2ae" stroke="#161b1f" stroke-width="1.2"/>
<path d="M659.8,164.8 C662,164.8 663,172 662.9,180 C662.8,184 662.5,186.5 662,187.5 L657.6,187.5 C657,186.5 656.7,184 656.7,180 C656.6,172 657.6,164.8 659.8,164.8Z" fill="url(#mastg)" stroke="#161b1f" stroke-width="1.2"/>
<rect x="657.4" y="187.2" width="4.8" height="2.7" rx="1" fill="#e4e9ec" stroke="#161b1f" stroke-width="1"/>
<rect x="666.4" y="188" width="3.8999999999999773" height="29" fill="#8fa2ae" stroke="#161b1f" stroke-width="1.2"/>
<circle cx="668.4" cy="186" r="2.4" fill="#e8edf0" stroke="#161b1f" stroke-width="1.1"/>
<path d="M673,217 L673,183 C673,179.8 677.8,179.8 677.8,183 L677.8,217Z" fill="#8fa2ae" stroke="#161b1f" stroke-width="1.2"/>
<rect x="684" y="197" width="5.2000000000000455" height="20" fill="#8fa2ae" stroke="#161b1f" stroke-width="1.2"/>
<path d="M686.2,182 C690,182 691.8,185 691.8,190 L692.3,193.5 L689.5,197.5 L689.2,198.7 L684,198.7 L683.3,197.5 L680,193.5 L680.5,190 C680.5,185 682.4,182 686.2,182Z" fill="url(#mastg)" stroke="#161b1f" stroke-width="1.2"/>
<rect x="703.3" y="187" width="4.400000000000091" height="30" fill="#8fa2ae" stroke="#161b1f" stroke-width="1.2"/>
<path d="M703.6,171.4 C702.5,169 702.8,165 705,164.2 C707.5,164 708,168 707.4,171.4 L707.6,175 C709.5,177 710.7,179.5 710.7,182 C710.7,185.5 709,188.1 705.5,188.1 C701.5,188.1 698.9,185.5 698.9,182 C698.9,179.5 700.5,177 703.4,175Z" fill="url(#mastg)" stroke="#161b1f" stroke-width="1.2"/>
<path d="M715.1,217 L715.1,193 L717.4,192.5 L717.4,178.5 C717.4,176.5 718.5,176.3 719.8,176.3 C721.2,176.3 722.2,176.5 722.2,178.5 L722.6,217Z" fill="#b8c5cd" stroke="#161b1f" stroke-width="1.2"/>
<path d="M866.5,262 L899,262.6 L899,275.8 L878,275.8Z" fill="#cbd7de" stroke="#161b1f" stroke-width="0.8"/>
<path d="M863.8,260.8 L866.5,262.0 L877.9,277.5 L888.4,275.8 L894.0,269.5 L903.0,265.0 L918.0,262.8 L933.0,263.8 L945.0,269.0 L952.0,278.0 L954.5,290.0 L946.5,293.5 L944.5,282.0 L939.0,274.0 L930.0,269.0 L918.0,268.0 L906.0,270.8 L899.0,276.5 L895.5,285.4 L893.7,301.2 L870.9,306.5 L869.0,280.0Z" fill="#33444f" stroke="#161b1f" stroke-width="1.2" stroke-linejoin="round" />
<path d="M893.7,301.2 L895.5,285.4 C896.5,281 897.5,278.5 899,276.5 C901,273.5 903.5,272 906,270.8 C910,269 914,268.2 918,268 C922,267.8 926,268.2 930,269 C934,270.3 936.5,272 939,274 C941.5,276.5 943.5,279 944.5,282 C945.5,285 946.3,289 946.5,293.5Z" fill="#f4f7f9"/>
<path d="M871.5,288.0 L885.5,286.0 L885.5,303.0 L871.5,305.5Z" fill="#e9eff3" stroke="#161b1f" stroke-width="0.8" stroke-linejoin="round" />
<rect x="885.8" y="274" width="5.3" height="29" rx="0" fill="#56656f" stroke="#161b1f" stroke-width="1"/>
<rect x="887.6" y="276" width="1.6" height="26" rx="0" fill="#8a98a2" stroke="none" stroke-width="0"/>
<path d="M857,306 L897.5,304 Q899.9,304 899.9,306.5 L899.9,329.5 Q899.9,332 897.5,332 L857.5,332 Q855,332 855,329.5 L855,308.5 Q855,306 857,306Z" fill="#c9d5dc" stroke="#161b1f" stroke-width="1.2"/>
<path d="M906,303.5 L930,301.5 Q932.4,301.5 932.4,304 L932.4,323 L936,323 L936,326.5 L908.5,326.5 Q906,326.5 906,324Z" fill="#c9d5dc" stroke="#161b1f" stroke-width="1.2"/>
<path d="M828.7,315.3 L870.9,306.5 L895.5,303 L948.2,294.2 L964.5,291.6" fill="none" stroke="#161b1f" stroke-width="1.8"/>
<rect x="790" y="325" width="23.7" height="11.4" rx="1" fill="#9aacb8" stroke="#161b1f" stroke-width="1"/>
<ellipse cx="825.2" cy="340" rx="2" ry="1.6" fill="none" stroke="#2a3640" stroke-width="0.9"/>
<ellipse cx="856.8" cy="338.2" rx="2" ry="1.6" fill="none" stroke="#2a3640" stroke-width="0.9"/>
<ellipse cx="865.6" cy="337.3" rx="2" ry="1.6" fill="none" stroke="#2a3640" stroke-width="0.9"/>
<rect x="500" y="338" width="5.5" height="4.2" rx="0" fill="none" stroke="#2a3640" stroke-width="0.9"/>
<rect x="508" y="338" width="5.5" height="4.2" rx="0" fill="none" stroke="#2a3640" stroke-width="0.9"/>
<rect x="700" y="338" width="5.5" height="4.2" rx="0" fill="none" stroke="#2a3640" stroke-width="0.9"/>
<rect x="712" y="338" width="5.5" height="4.2" rx="0" fill="none" stroke="#2a3640" stroke-width="0.9"/>
</g>
<g id="lines">
<path class="pl" d="M214.5,87.8 L278.3,87.8 L278.3,252.2"/>
<path class="pl" d="M206.9,131.2 L251.2,131.2 L251.2,245.6"/>
<path class="pl" d="M124.4,214.6 L214.2,214.6 L214.2,294.0"/>
<path class="pl" d="M124.4,384.7 L169.5,384.7 L169.5,314.5 L237.8,314.5"/>
<path class="pl" d="M290.4,375.2 L290.4,301.2"/>
<path class="pl" d="M429.1,137.8 L429.1,277.8"/>
<path class="pl" d="M379.0,190.5 L379.0,298.8"/>
<path class="pl" d="M556.9,174.1 L556.9,281.9"/>
<path class="pl" d="M676.5,98.0 L676.5,170.0"/>
<path class="pl" d="M631.7,162.0 L631.7,239.0"/>
<path class="pl" d="M939.7,85.8 L730.4,85.8 L730.4,199.3 L722.1,199.3"/>
<path class="pl" d="M841.7,126.8 L747.0,126.8 L747.0,246.3"/>
<path class="pl" d="M891.6,163.3 L764.3,163.3 L764.3,205.2"/>
<path class="pl" d="M930.5,219.3 L888.4,219.3 L888.4,274.3"/>
<path class="pl" d="M992.6,452.0 L992.6,291.6 L919.0,291.6"/>
<path class="pl" d="M583.7,391.5 L583.7,307.5"/>
<path class="pl" d="M585.9,464.8 L638.7,464.8 L638.7,333.1"/>
<path class="pl" d="M671.6,488.2 L671.6,300.6"/>
<path class="pl" d="M842.0,373.0 L842.0,295.0"/>
<path class="pl" d="M789.2,471.4 L789.2,308.5"/>
<circle class="dot" cx="278.3" cy="252.2" r="2.6"/>
<circle class="dot" cx="251.2" cy="245.6" r="2.6"/>
<circle class="dot" cx="214.2" cy="294" r="2.6"/>
<circle class="dot" cx="237.8" cy="314.5" r="2.6"/>
<circle class="dot" cx="290.4" cy="301.2" r="2.6"/>
<circle class="dot" cx="429.1" cy="277.8" r="2.6"/>
<circle class="dot" cx="379" cy="298.8" r="2.6"/>
<circle class="dot" cx="556.9" cy="281.9" r="2.6"/>
<circle class="dot" cx="676.5" cy="170" r="2.6"/>
<circle class="dot" cx="631.7" cy="239" r="2.6"/>
<circle class="dot" cx="722.1" cy="199.3" r="2.6"/>
<circle class="dot" cx="747" cy="246.3" r="2.6"/>
<circle class="dot" cx="764.3" cy="205.2" r="2.6"/>
<circle class="dot" cx="888.4" cy="274.3" r="2.6"/>
<circle class="dot" cx="919" cy="291.6" r="2.6"/>
<circle class="dot" cx="583.7" cy="307.5" r="2.6"/>
<circle class="dot" cx="638.7" cy="333.1" r="2.6"/>
<circle class="dot" cx="671.6" cy="300.6" r="2.6"/>
<circle class="dot" cx="842" cy="295" r="2.6"/>
<circle class="dot" cx="789.2" cy="308.5" r="2.6"/>
</g>
<g id="texts" style="filter:grayscale(1)">
<text transform="translate(19.1,93.75) scale(0.6,1)" x="0" y="0" font-size="20" textLength="300.8" lengthAdjust="spacing">bombonas de aire comprimido</text>
<text transform="translate(69.9,136.8) scale(0.6,1)" x="0" y="0" font-size="20" textLength="210.5" lengthAdjust="spacing">baliza de emergencia</text>
<text transform="translate(26.2,220) scale(0.6,1)" x="0" y="0" font-size="20" textLength="151.2" lengthAdjust="spacing">eje de la hélice</text>
<text transform="translate(26.8,381.9) scale(0.6,1)" x="0" y="0" font-size="20" textLength="149.2" lengthAdjust="spacing">compartimento</text>
<text transform="translate(25.8,399.8) scale(0.6,1)" x="0" y="0" font-size="20" textLength="94.5" lengthAdjust="spacing">mecánico</text>
<text transform="translate(218.8,392.3) scale(0.6,1)" x="0" y="0" font-size="20" textLength="229.8" lengthAdjust="spacing">conjunto de engranajes</text>
<text transform="translate(218.8,409.5) scale(0.6,1)" x="0" y="0" font-size="20" textLength="218.7" lengthAdjust="spacing">de la turbina principal</text>
<text transform="translate(379.2,130) scale(0.6,1)" x="0" y="0" font-size="20" textLength="167.2" lengthAdjust="spacing">silos con misiles</text>
<text transform="translate(334.2,182.2) scale(0.6,1)" x="0" y="0" font-size="20" textLength="150.0" lengthAdjust="spacing">reactor nuclear</text>
<text transform="translate(489.1,167.8) scale(0.6,1)" x="0" y="0" font-size="20" textLength="150.8" lengthAdjust="spacing">compartimento</text>
<text transform="translate(489.1,187) scale(0.6,1)" x="0" y="0" font-size="20" textLength="93.0" lengthAdjust="spacing">habitable</text>
<text transform="translate(642.4,74.5) scale(0.6,1)" x="0" y="0" font-size="20" textLength="127.7" lengthAdjust="spacing">cabrestantes</text>
<text transform="translate(642.5,92.5) scale(0.6,1)" x="0" y="0" font-size="20" textLength="101.2" lengthAdjust="spacing">y mástiles</text>
<text transform="translate(587.5,120.3) scale(0.6,1)" x="0" y="0" font-size="20" textLength="84.7" lengthAdjust="spacing">escotilla</text>
<text transform="translate(587.5,138.6) scale(0.6,1)" x="0" y="0" font-size="20" textLength="90.5" lengthAdjust="spacing">y cámara</text>
<text transform="translate(587.5,156.3) scale(0.6,1)" x="0" y="0" font-size="20" textLength="104.0" lengthAdjust="spacing">de entrada</text>
<text transform="translate(944.8,89.7) scale(0.6,1)" x="0" y="0" font-size="20" textLength="102.8" lengthAdjust="spacing">periscopio</text>
<text transform="translate(850.8,122.4) scale(0.6,1)" x="0" y="0" font-size="20" textLength="173.0" lengthAdjust="spacing">cámara de subida</text>
<text transform="translate(850.8,140.2) scale(0.6,1)" x="0" y="0" font-size="20" textLength="139.0" lengthAdjust="spacing">a la superficie</text>
<text transform="translate(900.3,166.3) scale(0.6,1)" x="0" y="0" font-size="20" textLength="178.2" lengthAdjust="spacing">puente de marcha</text>
<text transform="translate(934.8,214.8) scale(0.6,1)" x="0" y="0" font-size="20" textLength="123.2" lengthAdjust="spacing">mampara de</text>
<text transform="translate(935.2,232.4) scale(0.6,1)" x="0" y="0" font-size="20" textLength="89.8" lengthAdjust="spacing">la antena</text>
<text transform="translate(488.6,396.8) scale(0.6,1)" x="0" y="0" font-size="20" textLength="146.5" lengthAdjust="spacing">equipo auxiliar</text>
<text transform="translate(466,461.8) scale(0.6,1)" x="0" y="0" font-size="20" textLength="148.2" lengthAdjust="spacing">batería central</text>
<text transform="translate(467,479.4) scale(0.6,1)" x="0" y="0" font-size="20" textLength="196.7" lengthAdjust="spacing">de energía eléctrica</text>
<text transform="translate(562.5,507.3) scale(0.6,1)" x="0" y="0" font-size="20" textLength="240.5" lengthAdjust="spacing">torpedos sobre estantes</text>
<text transform="translate(562.5,524.8) scale(0.6,1)" x="0" y="0" font-size="20" textLength="280.8" lengthAdjust="spacing">y en el mecanismo de carga</text>
<text transform="translate(826.5,391.6) scale(0.6,1)" x="0" y="0" font-size="20" textLength="102.8" lengthAdjust="spacing">cámara de</text>
<text transform="translate(825.5,409) scale(0.6,1)" x="0" y="0" font-size="20" textLength="145.0" lengthAdjust="spacing">mando central</text>
<text transform="translate(757,495.8) scale(0.6,1)" x="0" y="0" font-size="20" textLength="106.7" lengthAdjust="spacing">lanzaderas</text>
<text transform="translate(758,513.6) scale(0.6,1)" x="0" y="0" font-size="20" textLength="115.3" lengthAdjust="spacing">de torpedos</text>
<text transform="translate(884.4,472.8) scale(0.6,1)" x="0" y="0" font-size="20" textLength="152.8" lengthAdjust="spacing">antena esférica</text>
<text transform="translate(884.4,490.3) scale(0.6,1)" x="0" y="0" font-size="20" textLength="207.7" lengthAdjust="spacing">principal del sistema</text>
<text transform="translate(884.4,507.5) scale(0.6,1)" x="0" y="0" font-size="20" textLength="132.7" lengthAdjust="spacing">hidroacústico</text>
<text transform="translate(26.4,668) scale(0.6,1)" x="0" y="0" font-size="20" font-weight="bold" style="stroke-width:0;text-shadow:0.25px 0 0 #111" textLength="80.8" lengthAdjust="spacing">Diseño:</text>
<text transform="translate(78,668) scale(0.6,1)" x="0" y="0" font-size="20" textLength="304.0" lengthAdjust="spacing">Oficina de ingeniería mecánica</text>
<text transform="translate(25.8,686) scale(0.6,1)" x="0" y="0" font-size="20" textLength="344.8" lengthAdjust="spacing">marina de San Petersburgo Malajit</text>
<text transform="translate(26.0,704) scale(0.6,1)" x="0" y="0" font-size="20" font-weight="bold" style="stroke-width:0;text-shadow:0.25px 0 0 #111" textLength="175.2" lengthAdjust="spacing">Director general:</text>
<text transform="translate(136.7,704) scale(0.6,1)" x="0" y="0" font-size="20" textLength="186.0" lengthAdjust="spacing">Vladímir Doroféyev</text>
<text transform="translate(553.7,650.2) scale(0.6,1)" x="0" y="0" font-size="20" font-weight="bold" style="stroke-width:0;text-shadow:0.25px 0 0 #111" textLength="264.5" lengthAdjust="spacing">Proyecto 08851, Yasen-M</text>
<text transform="translate(553,668.3) scale(0.6,1)" x="0" y="0" font-size="20" textLength="388.3" lengthAdjust="spacing">Inicio de la construcción: julio de 2013</text>
<text transform="translate(553,686) scale(0.6,1)" x="0" y="0" font-size="20" textLength="656.3" lengthAdjust="spacing">El casco con revestimiento metálico fue acabado en abril de 2014</text>
<text transform="translate(554,703.5) scale(0.6,1)" x="0" y="0" font-size="20" textLength="389.3" lengthAdjust="spacing">Trabajos de encapsulado: abril de 2015</text>
<text transform="translate(18.3,30.6) scale(0.6,1)" x="0" y="0" font-size="34" style="stroke-width:0;text-shadow:0.35px 0 0 #111" textLength="1126.7" lengthAdjust="spacing">Novosibirsk, un submarino nuclear multiuso de cuarta generación</text>
<text transform="translate(19.7,50.5) scale(0.6,1)" x="0" y="0" font-size="20" font-weight="bold" style="stroke-width:0;text-shadow:0.25px 0 0 #111" textLength="91.0" lengthAdjust="spacing">Fuentes:</text>
<text transform="translate(78,50.5) scale(0.6,1)" x="0" y="0" font-size="20" textLength="238.2" lengthAdjust="spacing">paralay.iboards.ru, rg.ru</text>
</g>
<g id="botsub">
<path d="M10.6,506.2 L13.2,504.4 L44,503.6 L52,505 L52,510.4 L13.2,510.8Z" fill="#1e1e1e"/>
<path d="M50.7,455.6 C53,454.6 58,454.6 60,455.4 C63,462 64.5,475 66.5,484 C67.5,487 69,489 70,490.5 L56,495 C55,483 53.5,470 52.9,462 C51.5,460 50.5,458 50.7,455.6Z" fill="#1c1c1c"/>
<path d="M53,458 C54,470 55,482 56,492" fill="none" stroke="#555" stroke-width="1"/>
<path d="M38,497 C40,490 48,489 54,492 L60,500 L58,512 L46,511 C41,509 37,503 38,497Z" fill="#2c2c2c"/>
<ellipse cx="44" cy="496" rx="5" ry="4" fill="#4a4a4a"/>
<path d="M55.0,493.0 C56.2,489.6 62.4,488.6 66.2,487.4 C70.0,486.2 78.5,484.4 83.8,483.7 C89.1,483.0 100.5,481.7 105.8,481.9 C111.1,482.1 117.0,483.9 123.5,485.2 C130.0,486.5 144.2,489.7 154.4,491.8 C164.6,493.9 189.3,498.5 200.0,500.6 C210.7,502.7 222.4,504.7 234.4,507.3 C246.4,509.9 272.8,516.0 290.0,520.0 C307.2,524.0 350.5,534.5 363.4,537.6 C376.3,540.7 380.6,542.0 386.8,543.4 C393.0,544.8 404.0,546.8 410.2,548.1 C416.4,549.4 427.4,551.2 433.6,552.8 C439.8,554.4 450.8,557.5 457.0,559.8 C463.2,562.1 474.2,567.3 480.4,570.3 C486.6,573.3 498.2,578.7 503.8,582.0 C509.4,585.3 518.5,591.3 522.6,594.9 C526.7,598.5 531.7,604.8 534.3,608.9 C536.9,613.0 541.2,621.6 542.4,625.3 C543.6,629.0 544.1,633.6 543.6,637.0 C543.1,640.4 541.1,647.3 538.9,651.0 C536.7,654.7 531.3,662.1 527.2,665.1 C523.1,668.1 514.7,671.7 508.5,673.3 C502.3,674.9 487.3,676.5 480.4,676.8 C473.5,677.1 463.2,676.5 457.0,675.6 C450.8,674.7 439.8,671.1 433.6,669.8 C427.4,668.5 415.2,666.4 410.2,665.5 C405.2,664.6 402.0,664.4 396.0,662.8 C390.0,661.2 373.3,655.9 365.0,653.4 C356.7,650.9 342.1,646.9 333.8,644.0 C325.4,641.1 310.8,634.9 302.5,631.6 C294.2,628.3 279.6,622.1 271.2,619.0 C262.9,615.9 247.7,611.1 240.0,608.1 C232.3,605.1 223.4,600.5 213.7,596.5 C204.0,592.5 177.8,582.7 166.9,578.4 C156.0,574.1 139.4,567.4 132.3,564.5 C125.2,561.6 118.4,558.9 114.0,557.0 C109.6,555.1 104.1,552.7 99.2,550.3 C94.3,547.9 81.6,542.1 77.2,539.2 C72.8,536.3 68.9,531.7 66.2,528.2 C63.5,524.7 58.8,517.5 57.3,512.8 C55.8,508.1 53.8,496.4 55.0,493.0Z" fill="url(#bhull)"/>
<path d="M55.0,493.0 C56.0,492.3 62.4,488.6 66.2,487.4 C70.0,486.2 78.5,484.4 83.8,483.7 C89.1,483.0 100.5,481.7 105.8,481.9 C111.1,482.1 117.0,483.9 123.5,485.2 C130.0,486.5 144.2,489.7 154.4,491.8 C164.6,493.9 189.3,498.5 200.0,500.6 C210.7,502.7 222.4,504.7 234.4,507.3 C246.4,509.9 272.8,516.0 290.0,520.0 C307.2,524.0 350.5,534.5 363.4,537.6 C376.3,540.7 380.6,542.0 386.8,543.4 C393.0,544.8 404.0,546.8 410.2,548.1 C416.4,549.4 427.4,551.2 433.6,552.8 C439.8,554.4 450.8,557.5 457.0,559.8 C463.2,562.1 474.2,567.3 480.4,570.3 C486.6,573.3 498.2,578.7 503.8,582.0 C509.4,585.3 519.4,592.4 522.6,594.9 C525.8,597.4 531.0,600.6 528.0,601.0 C525.0,601.4 507.7,599.2 500.0,598.0 C492.3,596.8 478.0,593.5 470.0,592.0 C462.0,590.5 448.0,588.5 440.0,587.0 C432.0,585.5 418.0,582.0 410.0,580.5 C402.0,579.0 388.0,577.1 380.0,576.0 C372.0,574.9 360.7,574.1 350.0,572.0 C339.3,569.9 313.3,563.2 300.0,560.0 C286.7,556.8 263.3,551.4 250.0,548.0 C236.7,544.6 212.7,538.3 200.0,534.8 C187.3,531.3 166.4,525.1 154.4,521.6 C142.4,518.1 120.6,511.5 110.3,508.4 C100.0,505.3 84.1,500.5 77.2,498.4 C70.3,496.3 61.4,493.7 58.4,493.0 C55.4,492.3 54.0,493.7 55.0,493.0Z" fill="url(#bdeck)"/>
<path d="M236.0,513.5 C234.7,512.2 237.8,507.0 238.5,505.0 C239.2,503.0 241.1,497.8 242.0,496.0 C242.9,494.2 245.3,490.7 246.5,489.5 C247.7,488.3 250.2,486.2 252.0,485.5 C253.8,484.8 258.7,483.6 262.0,483.3 C265.3,483.0 275.4,483.1 280.0,483.2 C284.6,483.3 297.0,483.9 301.6,484.3 C306.2,484.7 315.9,486.3 319.5,487.0 C323.1,487.7 329.8,489.8 332.2,490.6 C334.6,491.4 338.6,493.2 340.0,494.0 C341.4,494.8 343.6,496.3 344.6,497.5 C345.7,498.7 348.0,502.7 349.0,504.5 C350.0,506.3 351.8,510.3 353.0,513.3 C354.2,516.3 357.5,526.7 359.0,529.8 C360.5,532.9 372.9,540.4 366.0,540.0 C359.1,539.6 313.5,528.7 300.0,526.0 C286.5,523.3 257.5,518.0 250.0,516.5 C242.5,515.0 237.3,514.8 236.0,513.5Z" fill="url(#bsail)" stroke="#111" stroke-width="1"/>
<path d="M238,508 C240,500 243,493 247,489.5 C252,485.5 258,484.3 275,484.3 C300,485 320,487.5 334,491.5 C340,494 343,497 345,499" fill="none" stroke="#5e5e5e" stroke-width="1.4"/>
<rect x="274" y="423" width="4.300000000000011" height="62" fill="#9a9a9a" stroke="#222" stroke-width="0.9"/>
<rect x="274" y="423" width="4.3" height="4" fill="#333"/>
<path d="M278.5,455 L281,457 L281,484" fill="none" stroke="#555" stroke-width="1.2"/>
<rect x="283.7" y="434.7" width="4.5" height="50.30000000000001" fill="#a8a8a8" stroke="#222" stroke-width="0.9"/>
<rect x="289.5" y="450" width="3.5" height="35" fill="#8a8a8a" stroke="#222" stroke-width="0.9"/>
<path d="M288.5,439 C289,436 294,436 294.6,439 L294.6,452 C294,455 289,455 288.5,452Z" fill="#2a2a2a"/>
<rect x="299" y="466" width="3.5" height="19" fill="#9a9a9a" stroke="#222" stroke-width="0.9"/>
<path d="M299.8,458.5 C302,459.5 303.6,462 303.4,466 C303,468.5 296.5,468.5 296.2,466 C296,462 297.6,459.5 299.8,458.5Z" fill="#2a2a2a"/>
<rect x="309.7" y="458" width="6.199999999999989" height="28" fill="#a0a0a0" stroke="#222" stroke-width="0.9"/>
<path d="M308,443 C308,440 318.4,440 318.4,443 L318.4,458 C317,461 309,461 308,458Z" fill="#1e1e1e" stroke="#555" stroke-width="0.8"/>
<rect x="322.2" y="478.6" width="9.8" height="9.8" fill="#c9c9c9" stroke="#333" stroke-width="1"/>
<rect x="436" y="543" width="9" height="11" fill="#c4c4c4" stroke="#333" stroke-width="1" transform="rotate(8 444 545)"/>
<rect x="288.6" y="505.5" width="2.4" height="3.2" fill="#e8e8e8"/>
<rect x="287.5" y="519" width="2.4" height="3.2" fill="#e8e8e8"/>
<rect x="331" y="524.5" width="2.4" height="3.2" fill="#e8e8e8"/>
<rect x="240.5" y="512" width="2.4" height="3.2" fill="#e8e8e8"/>
<path d="M66.2,487.4 C68.5,486.9 78.5,484.4 83.8,483.7 C89.1,483.0 100.5,481.7 105.8,481.9 C111.1,482.1 117.0,483.9 123.5,485.2 C130.0,486.5 144.2,489.7 154.4,491.8 C164.6,493.9 189.1,498.5 200.0,500.6 C210.9,502.7 231.2,506.6 236.0,507.5" fill="none" stroke="#5a5a5a" stroke-width="1.2"/>
<path d="M70.0,490.0 C74.0,489.7 92.7,487.9 100.0,488.0 C107.3,488.1 117.0,489.8 125.0,491.0 C133.0,492.2 150.0,495.1 160.0,497.0 C170.0,498.9 189.9,502.9 200.0,505.0 C210.1,507.1 231.2,511.9 236.0,513.0" fill="none" stroke="#1e1e1e" stroke-width="1.1"/>
<path d="M366.0,539.5 C368.8,540.2 380.9,543.1 386.8,544.4 C392.7,545.7 404.0,547.8 410.2,549.1 C416.4,550.4 427.4,552.2 433.6,553.8 C439.8,555.4 450.8,558.5 457.0,560.8 C463.2,563.1 474.2,568.3 480.4,571.3 C486.6,574.3 500.7,581.4 503.8,583.0" fill="none" stroke="#5a5a5a" stroke-width="1.2"/>
<rect x="89.7" y="491.7" width="3.6" height="2.6" fill="#0e0e0e" transform="rotate(14 91.5 493)"/>
<rect x="101.8" y="495.59999999999997" width="3.6" height="2.6" fill="#0e0e0e" transform="rotate(14 103.6 496.9)"/>
<rect x="129.39999999999998" y="508.3" width="3.6" height="2.6" fill="#0e0e0e" transform="rotate(14 131.2 509.6)"/>
<rect x="148.2" y="512.7" width="3.6" height="2.6" fill="#0e0e0e" transform="rotate(14 150 514)"/>
<rect x="179.0" y="515.9000000000001" width="3.6" height="2.6" fill="#0e0e0e" transform="rotate(14 180.8 517.2)"/>
<rect x="193.39999999999998" y="519.2" width="3.6" height="2.6" fill="#0e0e0e" transform="rotate(14 195.2 520.5)"/>
<rect x="215.5" y="523.9000000000001" width="3.6" height="2.6" fill="#0e0e0e" transform="rotate(14 217.3 525.2)"/>
<rect x="262.2" y="535.7" width="3.6" height="2.6" fill="#0e0e0e" transform="rotate(14 264 537)"/>
<rect x="277.59999999999997" y="539.3000000000001" width="3.6" height="2.6" fill="#0e0e0e" transform="rotate(14 279.4 540.6)"/>
<rect x="297.5" y="550.2" width="3.6" height="2.6" fill="#0e0e0e" transform="rotate(14 299.3 551.5)"/>
<path d="M371,541 L373,535 L379,534 L382,537 L381,542Z" fill="#9a9a9a" stroke="#333" stroke-width="0.8"/>
<path d="M385,545 L399,546.5" stroke="#555" stroke-width="2"/>
<path d="M58.4,493.0 C60.9,493.7 70.3,496.3 77.2,498.4 C84.1,500.5 100.0,505.3 110.3,508.4 C120.6,511.5 142.4,518.1 154.4,521.6 C166.4,525.1 187.3,531.3 200.0,534.8 C212.7,538.3 238.3,545.0 250.0,548.0 C261.7,551.0 278.7,555.1 288.0,557.5 C297.3,559.9 312.7,563.7 320.0,566.0 C327.3,568.3 335.0,572.4 343.0,574.7 C351.0,577.0 371.1,581.1 380.0,583.0 C388.9,584.9 403.9,587.8 410.0,589.0 C416.1,590.2 423.9,591.6 426.0,592.0" fill="none" stroke="#eeeeee" stroke-width="1.6" stroke-dasharray="26 1.2"/>
<path d="M168,519 C166,525 163,531 162,536" fill="none" stroke="#ddd" stroke-width="1.3"/>
<path d="M361,563 C357,570 353,578 351,586" fill="none" stroke="#ddd" stroke-width="1.3"/>
<path d="M55,510 L62,520 L66.5,531 L67.5,538 L60,537.5 L56.5,528 L54,516Z" fill="#1a1a1a"/>
<path d="M99,484 C100,481 104,479.5 108,480 C111,480.5 113,482 113,485 L107,486Z" fill="#6a6a6a" stroke="#222" stroke-width="0.7"/>
<path d="M101,552 L113,553 L115,559 L104,560Z" fill="#1a1a1a"/>
<path d="M55.0,493.0 C56.2,489.6 62.4,488.6 66.2,487.4 C70.0,486.2 78.5,484.4 83.8,483.7 C89.1,483.0 100.5,481.7 105.8,481.9 C111.1,482.1 117.0,483.9 123.5,485.2 C130.0,486.5 144.2,489.7 154.4,491.8 C164.6,493.9 189.3,498.5 200.0,500.6 C210.7,502.7 222.4,504.7 234.4,507.3 C246.4,509.9 272.8,516.0 290.0,520.0 C307.2,524.0 350.5,534.5 363.4,537.6 C376.3,540.7 380.6,542.0 386.8,543.4 C393.0,544.8 404.0,546.8 410.2,548.1 C416.4,549.4 427.4,551.2 433.6,552.8 C439.8,554.4 450.8,557.5 457.0,559.8 C463.2,562.1 474.2,567.3 480.4,570.3 C486.6,573.3 498.2,578.7 503.8,582.0 C509.4,585.3 518.5,591.3 522.6,594.9 C526.7,598.5 531.7,604.8 534.3,608.9 C536.9,613.0 541.2,621.6 542.4,625.3 C543.6,629.0 544.1,633.6 543.6,637.0 C543.1,640.4 541.1,647.3 538.9,651.0 C536.7,654.7 531.3,662.1 527.2,665.1 C523.1,668.1 514.7,671.7 508.5,673.3 C502.3,674.9 487.3,676.5 480.4,676.8 C473.5,677.1 463.2,676.5 457.0,675.6 C450.8,674.7 439.8,671.1 433.6,669.8 C427.4,668.5 415.2,666.4 410.2,665.5 C405.2,664.6 402.0,664.4 396.0,662.8 C390.0,661.2 373.3,655.9 365.0,653.4 C356.7,650.9 342.1,646.9 333.8,644.0 C325.4,641.1 310.8,634.9 302.5,631.6 C294.2,628.3 279.6,622.1 271.2,619.0 C262.9,615.9 247.7,611.1 240.0,608.1 C232.3,605.1 223.4,600.5 213.7,596.5 C204.0,592.5 177.8,582.7 166.9,578.4 C156.0,574.1 139.4,567.4 132.3,564.5 C125.2,561.6 118.4,558.9 114.0,557.0 C109.6,555.1 104.1,552.7 99.2,550.3 C94.3,547.9 81.6,542.1 77.2,539.2 C72.8,536.3 68.9,531.7 66.2,528.2 C63.5,524.7 58.8,517.5 57.3,512.8 C55.8,508.1 53.8,496.4 55.0,493.0Z" fill="url(#bnose)"/>
<path d="M366.0,575.0 C367.0,572.4 368.8,572.8 372.0,572.5 C375.2,572.2 385.6,572.7 390.0,573.0 C394.4,573.3 402.1,574.3 405.0,575.0 C407.9,575.7 411.3,576.5 412.0,578.5 C412.7,580.5 410.6,585.3 410.0,590.0 C409.4,594.7 408.0,608.0 407.5,614.0 C407.0,620.0 406.1,629.5 406.0,635.0 C405.9,640.5 406.8,651.7 406.5,655.0 C406.2,658.3 405.4,659.0 404.0,659.5 C402.6,660.0 398.9,659.1 396.0,658.5 C393.1,657.9 385.3,656.3 382.0,655.0 C378.7,653.7 373.1,650.9 371.0,649.0 C368.9,647.1 366.9,644.9 366.0,641.0 C365.1,637.1 364.7,626.5 364.5,620.0 C364.3,613.5 364.3,598.0 364.5,592.0 C364.7,586.0 365.0,577.6 366.0,575.0Z" fill="url(#panel1)" stroke="#f4f4f4" stroke-width="1.2"/>
<path d="M424.4,587.0 C425.3,582.2 425.4,584.7 428.0,584.3 C430.6,583.9 439.9,584.0 444.0,584.0 C448.1,584.0 456.4,584.0 458.8,584.5 C461.1,585.0 461.2,587.0 462.0,588.0 C462.8,589.0 461.3,591.3 465.0,592.0 C468.7,592.7 483.3,592.8 490.0,593.0 C496.7,593.2 509.9,592.8 515.0,593.4 C520.1,594.0 525.2,596.0 528.0,597.5 C530.8,599.0 534.1,601.9 536.0,604.4 C537.9,606.9 540.8,612.3 542.0,616.0 C543.2,619.7 544.8,628.2 544.7,632.5 C544.6,636.8 542.5,644.3 541.0,648.0 C539.5,651.7 536.5,657.9 533.8,660.6 C531.0,663.3 523.8,666.8 520.0,668.5 C516.2,670.2 510.9,672.3 505.6,673.0 C500.3,673.7 486.2,674.0 480.0,674.0 C473.8,674.0 464.1,673.6 458.8,673.0 C453.4,672.4 443.3,670.3 440.0,669.5 C436.7,668.7 435.7,668.3 433.8,667.0 C431.8,665.7 427.2,662.1 425.5,660.0 C423.8,657.9 421.8,656.6 421.2,651.2 C420.7,645.9 421.1,628.6 421.5,620.0 C421.9,611.4 423.5,591.8 424.4,587.0Z" fill="url(#panel2)" stroke="#f4f4f4" stroke-width="1.2"/>
<path d="M426.0,596.5 C429.2,596.8 443.5,598.0 450.0,598.5 C456.5,599.0 468.3,599.9 475.0,600.5 C481.7,601.1 494.0,602.2 500.0,603.0 C506.0,603.8 515.2,605.6 520.0,606.5 C524.8,607.4 533.9,609.5 536.0,610.0" fill="none" stroke="#f2f2f2" stroke-width="1.3"/>
</g>
<g id="rt">
<rect x="963" y="650" width="50.6" height="51" fill="#22c21e"/>
<rect x="963" y="701" width="50.6" height="14.7" fill="#0a0a0a"/>
<path d="M970.4,668.2 H986.5 C990.5,668.2 992.3,670.2 992.3,673 C992.3,675.4 991,677 988.5,677.6 L992.6,682.7 H985.3 L981.8,678.2 H977.6 V682.7 H970.4Z M977.6,671.6 V674.7 H983.8 C985.2,674.7 985.8,674.1 985.8,673.1 C985.8,672.2 985.2,671.6 983.8,671.6Z" fill="#0d0d0d" fill-rule="evenodd"/>
<path d="M989.5,668.2 H1013.6 V673.6 H1006.6 V682.7 H999.3 V673.6 H989.5Z" fill="#0d0d0d"/>
<text x="968" y="712.6" font-size="11.5" font-weight="bold" textLength="41.2" lengthAdjust="spacingAndGlyphs" style="fill:#fff;stroke:#fff;stroke-width:0.2px;text-shadow:none;filter:grayscale(1)">SEPA MÁS</text>
</g>
</svg>
</body></html>
